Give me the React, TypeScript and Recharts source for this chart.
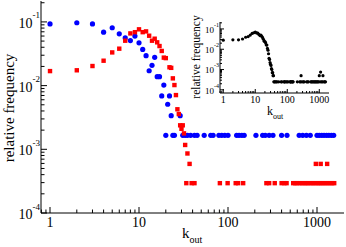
import React from 'react';
import { ScatterChart, Scatter, XAxis, YAxis } from 'recharts';

const FONT = '"Liberation Serif", "DejaVu Serif", serif';

// ---------- main chart data ----------
const blueK = [1, 2, 3, 4, 5, 6, 7, 8, 9, 10, 11, 12, 13, 14, 15, 16, 17, 18, 19, 21, 22, 23, 29];
const blueF = [0.093, 0.097, 0.093, 0.069, 0.081, 0.065, 0.056, 0.051, 0.06, 0.047, 0.037, 0.0295, 0.0171, 0.0208, 0.0278, 0.0138, 0.0138, 0.0069, 0.0102, 0.0051, 0.0069, 0.00337, 0.00337];
const blueTailK = [20, 24, 25, 31, 33, 35, 38, 42, 45, 54, 64, 68, 79, 85, 92, 100, 125, 133, 143, 152, 206, 245, 262, 290, 320, 400, 460, 630, 690, 760, 840, 1000, 1060, 1130, 1200, 1280, 1360, 1450, 1540];
const blueTailF = 0.00166;

const redK = [1, 2, 3, 4, 5, 6, 7, 8, 9, 10, 11, 12, 13, 14, 15, 16, 17, 18, 19, 20, 22, 23, 24, 25, 26, 27, 28, 29, 30, 31, 32, 33, 35];
const redF = [0.0169, 0.0174, 0.0203, 0.0246, 0.0332, 0.038, 0.0507, 0.066, 0.069, 0.0765, 0.069, 0.071, 0.0607, 0.0507, 0.0545, 0.0478, 0.0418, 0.035, 0.0275, 0.027, 0.0194, 0.019, 0.013, 0.0102, 0.0071, 0.00425, 0.00358, 0.00238, 0.0021, 0.00238, 0.00178, 0.00117, 0.00086];
const redTwoK = [37, 970, 1100, 1300];
const redTwoF = 0.00059;
const redTailK = [34, 39, 42, 81, 99, 122, 130, 148, 270, 290, 335, 400, 430, 455, 540, 570, 600, 640, 680, 720, 760, 800, 850, 900, 950, 1010, 1060, 1120, 1180, 1250, 1320, 1400, 1480, 1560];
const redTailF = 0.000294;

// ---------- inset data ----------
const insetK = [1, 2, 3, 4, 5, 6, 7, 8, 9, 10, 11, 12, 13, 14, 15, 16, 17, 18, 19, 20, 21, 22, 23, 24, 25, 26, 27, 28, 29, 30, 31, 32, 33, 34, 35, 36, 37, 270, 1000, 1300, 1100];
const insetF = [0.028, 0.029, 0.029, 0.032, 0.039, 0.042, 0.05, 0.06, 0.065, 0.069, 0.064, 0.062, 0.054, 0.047, 0.05, 0.043, 0.037, 0.031, 0.025, 0.024, 0.021, 0.0165, 0.016, 0.011, 0.009, 0.006, 0.0036, 0.0031, 0.0022, 0.0018, 0.0016, 0.0011, 0.001, 0.0007, 0.0007, 0.0005, 0.0005, 0.0005, 0.0005, 0.0005, 0.00075];
const insetTailK = [38, 40, 42, 45, 48, 54, 64, 68, 79, 81, 85, 92, 99, 106, 122, 125, 130, 133, 143, 148, 152, 206, 245, 262, 290, 320, 335, 400, 430, 455, 540, 570, 600, 640, 680, 720, 760, 800, 850, 900, 950, 1060, 1180, 1250, 1400, 1480, 1560];
const insetTailF = 0.00025;

// ---------- axes ----------
const X_DOMAIN: [number, number] = [0.792, 2010];
const Y_DOMAIN: [number, number] = [0.0001, 0.213];
const IX_DOMAIN: [number, number] = [0.792, 2010];
const IY_DOMAIN: [number, number] = [0.00007, 0.22];

const logTicks = (lo: number, hi: number, min: number, max: number) => {
  const out: number[] = [];
  for (let e = lo; e <= hi; e++) {
    for (let m = 1; m <= 9; m++) {
      const v = parseFloat((m * Math.pow(10, e)).toPrecision(6));
      if (v >= min && v <= max) out.push(v);
    }
  }
  return out;
};
const xTicks = logTicks(-1, 3, 0.8, 1999);
const yTicks = logTicks(-4, -1, 0.0001, 0.21);
const ixTicks = xTicks;
const iyTicks = logTicks(-4, -1, 0.0001, 0.21);

const isMajor = (v: number) => Math.abs(Math.log10(v) - Math.round(Math.log10(v))) < 1e-6;

type Side = 'bottom' | 'top' | 'left' | 'right';
const makeTick = (side: Side, major: number, minor: number, fs: number, sup: number, labels: boolean) => (props: any) => {
  const { x, y, payload } = props;
  const v = payload.value;
  const maj = isMajor(v);
  const len = maj ? major : minor;
  let line: React.ReactNode = null;
  let label: React.ReactNode = null;
  if (side === 'bottom') {
    line = <line x1={x} x2={x} y1={y} y2={y - len} stroke="#000" strokeWidth={1} />;
    if (labels && maj) {
      label = (
        <text x={x} y={y + fs} textAnchor="middle" fontSize={fs} fontFamily={FONT} fill="#000">
          {String(Math.round(v))}
        </text>
      );
    }
  } else if (side === 'top') {
    line = <line x1={x} x2={x} y1={y} y2={y + len} stroke="#000" strokeWidth={1} />;
  } else if (side === 'left') {
    line = <line x1={x} x2={x + len} y1={y} y2={y} stroke="#000" strokeWidth={1} />;
    if (labels && maj) {
      const e = Math.round(Math.log10(v));
      label = (
        <text x={x - 1} y={y + fs * 0.43} textAnchor="end" fontSize={fs} fontFamily={FONT} fill="#000">
          <tspan>10</tspan>
          <tspan dy={-fs * 0.68} fontSize={sup}>{'-' + Math.abs(e)}</tspan>
        </text>
      );
    }
  } else {
    line = <line x1={x} x2={x - len} y1={y} y2={y} stroke="#000" strokeWidth={1} />;
  }
  return (
    <g>
      {line}
      {label}
    </g>
  );
};

const blueDot = (p: any) => <circle cx={p.cx} cy={p.cy} r={2.6} fill="#0000ff" />;
const redSq = (p: any) => <rect x={p.cx - 2.2} y={p.cy - 2.2} width={4.4} height={4.4} fill="#ff0000" />;
const blackDot = (p: any) => <circle cx={p.cx} cy={p.cy} r={1.6} fill="#000000" />;

const bluePts = [
  ...blueK.map((k, i) => ({ k, f: blueF[i] })),
  ...blueTailK.map((k) => ({ k, f: blueTailF })),
];
const redPts = [
  ...redK.map((k, i) => ({ k, f: redF[i] })),
  ...redTwoK.map((k) => ({ k, f: redTwoF })),
  ...redTailK.map((k) => ({ k, f: redTailF })),
];
const insetPts = [
  ...insetK.map((k, i) => ({ k, f: insetF[i] })),
  ...insetTailK.map((k) => ({ k, f: insetTailF })),
];

const axisLine = { stroke: '#000', strokeWidth: 1 };

export default function App() {
  return (
    <div style={{ position: 'absolute', left: 0, top: 0, width: 346, height: 247, background: '#fff', overflow: 'hidden' }}>
      <div style={{ position: 'absolute', left: 0, top: 0 }}>
        <ScatterChart width={346} height={247} margin={{ top: 1, right: 2, bottom: 0, left: 0 }}>
          <XAxis xAxisId="b" dataKey="k" type="number" scale="log" domain={X_DOMAIN} allowDataOverflow ticks={xTicks} interval={0}
            height={34} tickLine={false} tickSize={0} tickMargin={0} axisLine={axisLine} tick={makeTick('bottom', 6, 3.5, 14, 9, true)} />
          <XAxis xAxisId="t" orientation="top" dataKey="k" type="number" scale="log" domain={X_DOMAIN} allowDataOverflow ticks={xTicks} interval={0}
            height={0} tickLine={false} tickSize={0} tickMargin={0} axisLine={axisLine} tick={makeTick('top', 6, 3.5, 14, 9, false)} />
          <YAxis yAxisId="l" dataKey="f" type="number" scale="log" domain={Y_DOMAIN} allowDataOverflow ticks={yTicks} interval={0}
            width={41} tickLine={false} tickSize={0} tickMargin={0} axisLine={axisLine} tick={makeTick('left', 6, 3.5, 14, 9, true)} />
          <YAxis yAxisId="r" orientation="right" dataKey="f" type="number" scale="log" domain={Y_DOMAIN} allowDataOverflow ticks={yTicks} interval={0}
            width={0} tickLine={false} tickSize={0} tickMargin={0} axisLine={axisLine} tick={makeTick('right', 6, 3.5, 14, 9, false)} />
          <Scatter xAxisId="b" yAxisId="l" data={bluePts} shape={blueDot} isAnimationActive={false} />
          <Scatter xAxisId="b" yAxisId="l" data={redPts} shape={redSq} isAnimationActive={false} />
          <Scatter xAxisId="t" yAxisId="r" data={[]} isAnimationActive={false} />
        </ScatterChart>
      </div>
      <div style={{ position: 'absolute', left: 185, top: 8 }}>
        <ScatterChart width={150} height={120} margin={{ top: 14, right: 6, bottom: 0, left: 0 }}>
          <XAxis xAxisId="b" dataKey="k" type="number" scale="log" domain={IX_DOMAIN} allowDataOverflow ticks={ixTicks} interval={0}
            height={35} tickLine={false} tickSize={0} tickMargin={0} axisLine={axisLine} tick={makeTick('bottom', 4, 2, 10, 7, true)} />
          <XAxis xAxisId="t" orientation="top" dataKey="k" type="number" scale="log" domain={IX_DOMAIN} allowDataOverflow ticks={ixTicks} interval={0}
            height={0} tickLine={false} tickSize={0} tickMargin={0} axisLine={axisLine} tick={makeTick('top', 4, 2, 10, 7, false)} />
          <YAxis yAxisId="l" dataKey="f" type="number" scale="log" domain={IY_DOMAIN} allowDataOverflow ticks={iyTicks} interval={0}
            width={35} tickLine={false} tickSize={0} tickMargin={0} axisLine={axisLine} tick={makeTick('left', 4, 2, 9, 6, true)} />
          <YAxis yAxisId="r" orientation="right" dataKey="f" type="number" scale="log" domain={IY_DOMAIN} allowDataOverflow ticks={iyTicks} interval={0}
            width={0} tickLine={false} tickSize={0} tickMargin={0} axisLine={axisLine} tick={makeTick('right', 4, 2, 9, 6, false)} />
          <Scatter xAxisId="b" yAxisId="l" data={insetPts} shape={blackDot} isAnimationActive={false} />
          <Scatter xAxisId="t" yAxisId="r" data={[]} isAnimationActive={false} />
        </ScatterChart>
      </div>
      <svg width={346} height={247} style={{ position: 'absolute', left: 0, top: 0, pointerEvents: 'none' }}>
        <text transform="translate(13.5,108) rotate(-90)" textAnchor="middle" fontSize={15} fontFamily={FONT} fill="#000">
          relative frequency
        </text>
        <text x={182} y={238} fontSize={15} fontFamily={FONT} fill="#000">
          <tspan>k</tspan>
          <tspan dy={5} fontSize={10}>out</tspan>
        </text>
        <text transform="translate(200,57) rotate(-90)" textAnchor="middle" fontSize={11.5} fontFamily={FONT} fill="#000">
          relative frequency
        </text>
        <text x={267} y={115} fontSize={12} fontFamily={FONT} fill="#000">
          <tspan>k</tspan>
          <tspan dy={4} fontSize={8}>out</tspan>
        </text>
      </svg>
    </div>
  );
}
